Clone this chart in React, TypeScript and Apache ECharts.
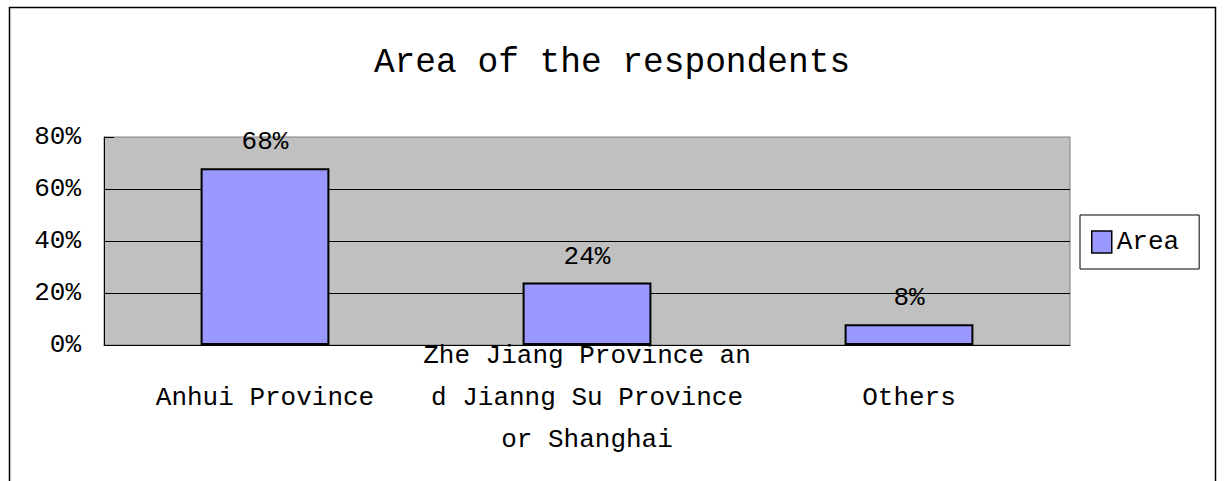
import React, { useEffect, useRef } from "react";
import * as echarts from "echarts";

const titleText = "Area of the respondents";
const seriesName = "Area";
const categories = [
  "Anhui Province",
  "Zhe Jiang Province and Jianng Su Province or Shanghai",
  "Others",
];
const values = [68, 24, 8];
const yMin = 0;
const yMax = 80;
const yInterval = 20;

const LINE_CHARS = 21;
function wrapLabel(v: string): string {
  const lines: string[] = [];
  for (let i = 0; i < v.length; i += LINE_CHARS) {
    lines.push(v.slice(i, i + LINE_CHARS).trim());
  }
  return lines.join("\n");
}

export default function App() {
  const ref = useRef<HTMLDivElement>(null);
  useEffect(() => {
    if (!ref.current) return;
    const chart = echarts.init(ref.current, null, { renderer: "svg" });
    const font = "'Liberation Mono', monospace";
    chart.setOption({
      animation: false,
      backgroundColor: "#ffffff",
      title: {
        text: titleText,
        left: "center",
        top: 40,
        textStyle: { fontFamily: font, fontSize: 34.5, fontWeight: "normal", color: "#000" },
      },
      grid: {
        left: 104,
        top: 137,
        right: 154,
        bottom: 136,
        show: true,
        backgroundColor: "#C0C0C0",
        borderColor: "#808080",
        borderWidth: 1,
      },
      legend: {
        left: 1080,
        top: 215,
        orient: "vertical",
        padding: [14, 20, 14, 11],
        itemWidth: 20,
        itemHeight: 22,
        itemGap: 0,
        borderColor: "#000",
        borderWidth: 1,
        backgroundColor: "#fff",
        icon: "rect",
        textStyle: { fontFamily: font, fontSize: 26, color: "#000" },
        itemStyle: { borderColor: "#000", borderWidth: 1.5 },
      },
      xAxis: {
        type: "category",
        data: categories,
        axisLine: { lineStyle: { color: "#000", width: 1 } },
        axisTick: { inside: true, length: 12, lineStyle: { color: "#000" } },
        axisLabel: {
          interval: 0,
          fontFamily: font,
          fontSize: 26,
          color: "#000",
          lineHeight: 42,
          verticalAlign: "middle",
          margin: 53,
          formatter: (v: string) => wrapLabel(v),
        },
      },
      yAxis: {
        type: "value",
        min: yMin,
        max: yMax,
        interval: yInterval,
        axisLine: { show: true, lineStyle: { color: "#000" } },
        axisTick: { show: true, inside: true, length: 10, lineStyle: { color: "#000" } },
        axisLabel: { formatter: "{value}%", fontFamily: font, fontSize: 26, color: "#000", margin: 23 },
        splitLine: { show: true, showMaxLine: false, showMinLine: false, lineStyle: { color: "#000", width: 1 } },
      },
      series: [
        {
          type: "bar",
          name: seriesName,
          data: values,
          barWidth: "40%",
          itemStyle: { color: "#9999FF", borderColor: "#000", borderWidth: 2 },
          label: {
            show: true,
            position: "top",
            distance: 13,
            formatter: "{c}%",
            fontFamily: font,
            fontSize: 26,
            color: "#000",
          },
        },
      ],
      graphic: [
        {
          type: "polyline",
          silent: true,
          shape: { points: [[9.5, 481], [9.5, 7.5], [1215.5, 7.5], [1215.5, 481]] },
          style: { stroke: "#000", lineWidth: 1.5, fill: "none" },
        },
      ],
    });
    return () => chart.dispose();
  }, []);
  return <div ref={ref} style={{ position: "absolute", left: 0, top: 0, width: 1224, height: 481 }} />;
}
